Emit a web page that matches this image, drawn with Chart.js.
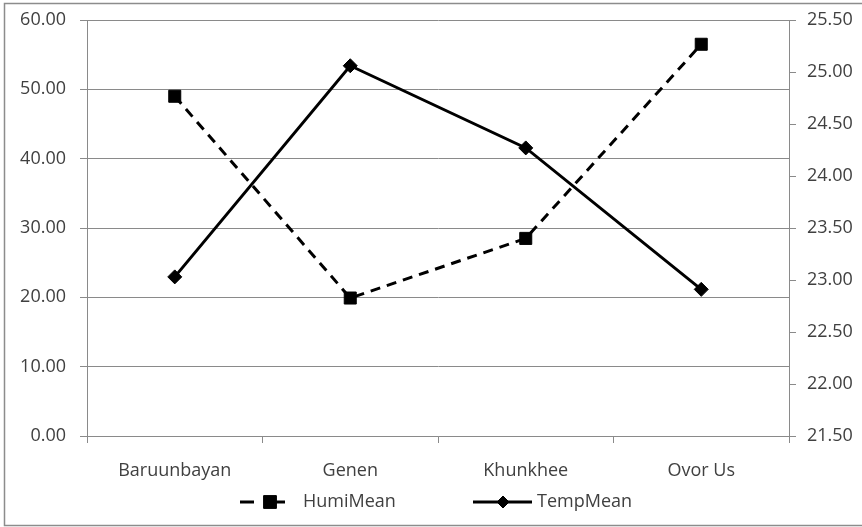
<!DOCTYPE html>
<html>
<head>
<meta charset="utf-8">
<script src="https://cdn.jsdelivr.net/npm/chart.js@4/dist/chart.umd.min.js"></script>
<style>
  html, body { margin: 0; padding: 0; background: #ffffff; }
  #wrap { width: 862px; height: 527px; position: relative; }
</style>
</head>
<body>
<div id="wrap"><canvas id="c" width="862" height="527"></canvas></div>
<script>
// Sites along the x axis
const sites = ['Baruunbayan', 'Genen', 'Khunkhee', 'Ovor Us'];
// Mean humidity per site (left axis)
const humiMean = [49.0, 19.9, 28.5, 56.5];
// Mean temperature per site (right axis)
const tempMean = [23.03, 25.06, 24.27, 22.91];
// Axis ranges
const humiTicks = [0, 10, 20, 30, 40, 50, 60];
const tempTicks = [21.5, 22, 22.5, 23, 23.5, 24, 24.5, 25, 25.5];

const FONT = '"Open Sans", "Noto Sans", sans-serif';
const TXT = '#404040';
const GRID = '#8a8a8a';

// Frame around the whole figure
const framePlugin = {
  id: 'frame',
  beforeDraw(chart) {
    const ctx = chart.ctx;
    ctx.save();
    ctx.fillStyle = '#ffffff';
    ctx.fillRect(0, 0, chart.width, chart.height);
    ctx.strokeStyle = '#8c8c8c';
    ctx.lineWidth = 1.5;
    ctx.strokeRect(4.5, 3.5, chart.width + 10, chart.height - 5);
    ctx.restore();
  }
};

// Legend row: line sample + marker + series name
const legendPlugin = {
  id: 'rowLegend',
  afterDraw(chart) {
    const ctx = chart.ctx;
    const y = 502;
    const items = [
      { ds: 0, segs: [[240, 254], [270, 285]], mx: 270, tx: 303, r: 9 },
      { ds: 1, segs: [[473, 532]], mx: 503, tx: 537, r: 6 }
    ];
    ctx.save();
    items.forEach(it => {
      const d = chart.data.datasets[it.ds];
      ctx.strokeStyle = d.borderColor;
      ctx.lineWidth = d.borderWidth;
      ctx.setLineDash([]);
      it.segs.forEach(s => {
        ctx.beginPath();
        ctx.moveTo(s[0], y);
        ctx.lineTo(s[1], y);
        ctx.stroke();
      });
      ctx.lineWidth = 1;
      Chart.helpers.drawPoint(ctx, {
        pointStyle: d.pointStyle,
        radius: it.r,
        borderWidth: 1
      }, it.mx, y);
      ctx.fillStyle = d.pointBackgroundColor;
      ctx.fill();
      ctx.fillStyle = TXT;
      ctx.font = '18px ' + FONT;
      ctx.textBaseline = 'middle';
      ctx.textAlign = 'left';
      ctx.fillText(d.label, it.tx, y);
    });
    ctx.restore();
  }
};

// Fixed axis band sizes so the plot area sits where intended
function fixY(width) {
  return scale => {
    scale.width = width;
    scale.paddingTop = 0;
    scale.paddingBottom = 0;
  };
}

new Chart(document.getElementById('c'), {
  type: 'line',
  data: {
    labels: sites,
    datasets: [
      {
        label: 'HumiMean',
        data: humiMean,
        yAxisID: 'yHumi',
        borderColor: '#000000',
        borderWidth: 3,
        borderDash: [10, 7],
        pointStyle: 'rect',
        pointRadius: 8.5,
        pointBackgroundColor: '#000000',
        pointBorderColor: '#000000',
        pointBorderWidth: 1,
        tension: 0
      },
      {
        label: 'TempMean',
        data: tempMean,
        yAxisID: 'yTemp',
        borderColor: '#000000',
        borderWidth: 3,
        pointStyle: 'rectRot',
        pointRadius: 7,
        pointBackgroundColor: '#000000',
        pointBorderColor: '#000000',
        pointBorderWidth: 1,
        tension: 0
      }
    ]
  },
  options: {
    responsive: false,
    animation: false,
    devicePixelRatio: 1,
    layout: { padding: { top: 20, left: 0, right: 0, bottom: 0 } },
    plugins: {
      legend: { display: false },
      tooltip: { enabled: false }
    },
    scales: {
      x: {
        type: 'category',
        offset: true,
        grid: {
          offset: true,
          drawOnChartArea: false,
          drawTicks: true,
          tickLength: 7,
          color: GRID,
          lineWidth: 1
        },
        border: { display: true, color: GRID, width: 1 },
        ticks: {
          color: TXT,
          font: { family: FONT, size: 18 },
          padding: 17,
          maxRotation: 0,
          autoSkip: false
        },
        afterFit(scale) {
          scale.height = 91;
          scale.paddingLeft = 0;
          scale.paddingRight = 0;
        }
      },
      yHumi: {
        position: 'left',
        min: 0,
        max: 60,
        afterBuildTicks(scale) { scale.ticks = humiTicks.map(v => ({ value: v })); },
        grid: {
          color: GRID,
          lineWidth: 1,
          drawTicks: true,
          tickLength: 7
        },
        border: { display: true, color: GRID, width: 1 },
        ticks: {
          color: TXT,
          font: { family: FONT, size: 18 },
          padding: 14,
          callback: v => Number(v).toFixed(2)
        },
        afterFit: fixY(87)
      },
      yTemp: {
        position: 'right',
        min: 21.5,
        max: 25.5,
        afterBuildTicks(scale) { scale.ticks = tempTicks.map(v => ({ value: v })); },
        grid: {
          drawOnChartArea: false,
          color: GRID,
          lineWidth: 1,
          drawTicks: true,
          tickLength: 7
        },
        border: { display: true, color: GRID, width: 1 },
        ticks: {
          color: TXT,
          font: { family: FONT, size: 18 },
          padding: 11,
          callback: v => Number(v).toFixed(2)
        },
        afterFit: fixY(73)
      }
    }
  },
  plugins: [framePlugin, legendPlugin]
});
</script>
</body>
</html>
